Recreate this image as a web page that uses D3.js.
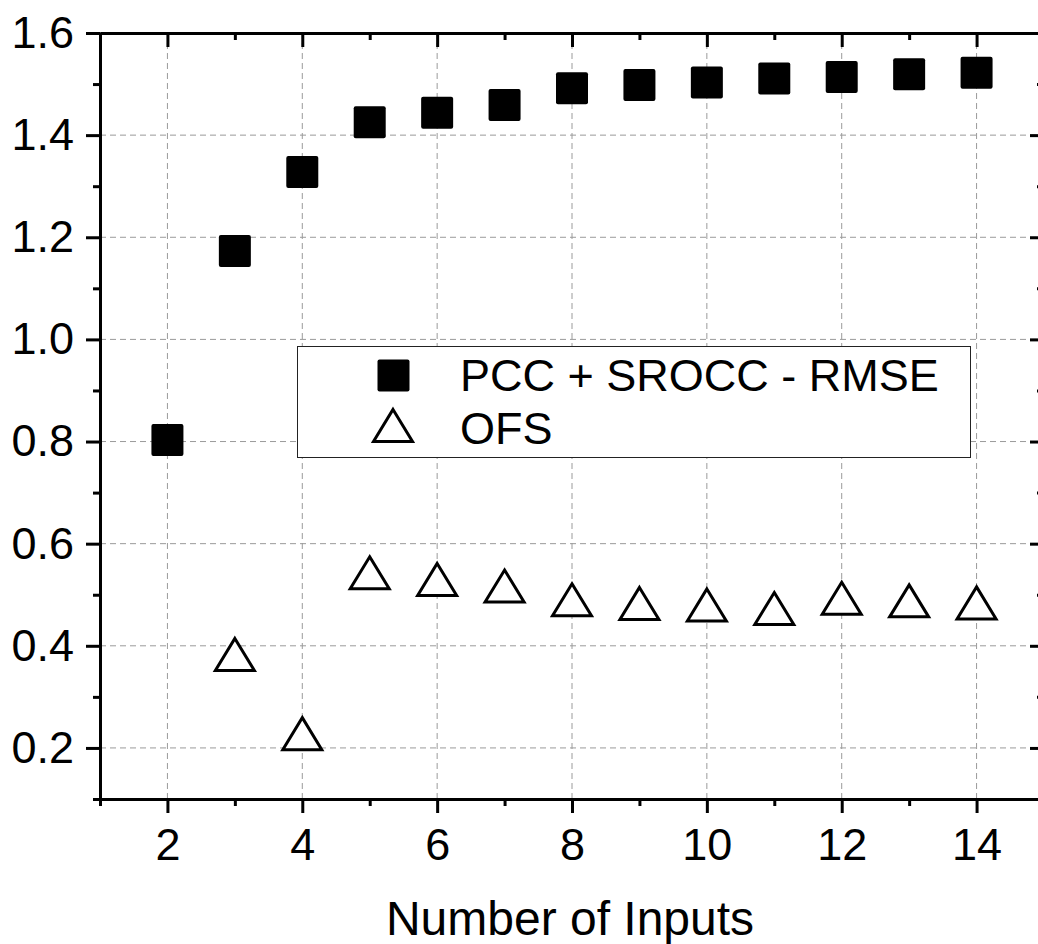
<!DOCTYPE html>
<html>
<head>
<meta charset="utf-8">
<script src="https://cdn.jsdelivr.net/npm/d3@7"></script>
<style>
  html, body { margin: 0; padding: 0; background: #fff; }
  svg { display: block; overflow: hidden; }
  text { font-family: "Liberation Sans", Arial, Helvetica, sans-serif; fill: #000; }
</style>
</head>
<body>
<script>
// ---- data ----
const pccX = [2, 3, 4, 5, 6, 7, 8, 9, 10, 11, 12, 13, 14];
const pccY = [0.803, 1.173, 1.328, 1.425, 1.444, 1.459, 1.492, 1.498, 1.503, 1.511, 1.514, 1.519, 1.522];
const ofsX = [3, 4, 5, 6, 7, 8, 9, 10, 11, 12, 13, 14];
const ofsY = [0.383, 0.228, 0.543, 0.530, 0.517, 0.490, 0.483, 0.480, 0.473, 0.493, 0.488, 0.484];
const xTicks = [2, 4, 6, 8, 10, 12, 14];
const xMinor = [1, 3, 5, 7, 9, 11, 13, 15];
const yTicks = [0.2, 0.4, 0.6, 0.8, 1.0, 1.2, 1.4, 1.6];
const yMinor = [0.1, 0.3, 0.5, 0.7, 0.9, 1.1, 1.3, 1.5];
const seriesNames = ["PCC + SROCC - RMSE", "OFS"];
const xTitle = "Number of Inputs";

// ---- layout ----
const W = 1038, H = 944;
const L = 100, R = 1044, T = 33, B = 799;

const svg = d3.select("body").append("svg").attr("width", W).attr("height", H);

const x = d3.scaleLinear().domain([1, 15]).range([L, R]);
const y = d3.scaleLinear().domain([0.1, 1.6]).range([B, T]);

// grid
const grid = svg.append("g").attr("stroke", "#9a9a9a").attr("stroke-width", 1).attr("stroke-dasharray", "6,4");
grid.selectAll("line.v").data(xTicks).join("line")
  .attr("x1", d => x(d)).attr("x2", d => x(d)).attr("y1", T).attr("y2", B);
grid.selectAll("line.h").data(yTicks.filter(d => d < 1.6)).join("line")
  .attr("x1", L).attr("x2", R).attr("y1", d => y(d)).attr("y2", d => y(d));

function styleAxis(g) {
  g.selectAll("path.domain").attr("stroke", "#000").attr("stroke-width", 3);
  g.selectAll(".tick line").attr("stroke", "#000").attr("stroke-width", 3);
  g.selectAll(".tick text").attr("font-size", 45).attr("font-family", '"Liberation Sans", Arial, sans-serif').attr("fill", "#000");
}

// left axis
svg.append("g").attr("transform", `translate(${L},0)`)
  .call(d3.axisLeft(y).tickValues(yMinor).tickSize(7).tickSizeOuter(0).tickFormat(""))
  .call(styleAxis);
svg.append("g").attr("transform", `translate(${L},0)`)
  .call(d3.axisLeft(y).tickValues(yTicks).tickSize(14).tickSizeOuter(0).tickPadding(12).tickFormat(d3.format(".1f")))
  .call(styleAxis);

// right axis (inward ticks)
svg.append("g").attr("transform", `translate(${R},0)`)
  .call(d3.axisLeft(y).tickValues(yMinor).tickSize(7).tickSizeOuter(0).tickFormat(""))
  .call(styleAxis);
svg.append("g").attr("transform", `translate(${R},0)`)
  .call(d3.axisLeft(y).tickValues(yTicks).tickSize(14).tickSizeOuter(0).tickFormat(""))
  .call(styleAxis);

// bottom axis
svg.append("g").attr("transform", `translate(0,${B})`)
  .call(d3.axisBottom(x).tickValues(xMinor).tickSize(7).tickSizeOuter(0).tickFormat(""))
  .call(styleAxis);
svg.append("g").attr("transform", `translate(0,${B})`)
  .call(d3.axisBottom(x).tickValues(xTicks).tickSize(14).tickSizeOuter(0).tickPadding(15).tickFormat(d3.format("d")))
  .call(styleAxis);

// top axis (inward ticks)
svg.append("g").attr("transform", `translate(0,${T})`)
  .call(d3.axisBottom(x).tickValues(xMinor).tickSize(7).tickSizeOuter(0).tickFormat(""))
  .call(styleAxis);
svg.append("g").attr("transform", `translate(0,${T})`)
  .call(d3.axisBottom(x).tickValues(xTicks).tickSize(14).tickSizeOuter(0).tickFormat(""))
  .call(styleAxis);

// x title
svg.append("text").attr("x", 570).attr("y", 935).attr("text-anchor", "middle")
  .attr("font-size", 48).text(xTitle);

// markers
const SQ = 32;
const TW = 39, TH = 32;
function triPath(cx, cy) {
  return `M${cx},${cy - TH / 2}L${cx + TW / 2},${cy + TH / 2}L${cx - TW / 2},${cy + TH / 2}Z`;
}

svg.append("g").selectAll("path").data(ofsX.map((d, i) => [d, ofsY[i]])).join("path")
  .attr("d", d => triPath(x(d[0]), y(d[1])))
  .attr("fill", "#fff").attr("stroke", "#000").attr("stroke-width", 3).attr("stroke-linejoin", "miter");

svg.append("g").selectAll("rect").data(pccX.map((d, i) => [d, pccY[i]])).join("rect")
  .attr("x", d => x(d[0]) - SQ / 2).attr("y", d => y(d[1]) - SQ / 2)
  .attr("width", SQ).attr("height", SQ).attr("rx", 2).attr("fill", "#000");

// legend
const lg = svg.append("g");
lg.append("rect").attr("x", 297.5).attr("y", 346.5).attr("width", 673).attr("height", 111)
  .attr("fill", "#fff").attr("stroke", "#222").attr("stroke-width", 1);
lg.append("rect").attr("x", 393.5 - SQ / 2).attr("y", 375.5 - SQ / 2).attr("width", SQ).attr("height", SQ)
  .attr("rx", 2).attr("fill", "#000");
lg.append("path").attr("d", triPath(393, 425.5)).attr("fill", "#fff").attr("stroke", "#000").attr("stroke-width", 3);
lg.append("text").attr("x", 460).attr("y", 391).attr("font-size", 45).text(seriesNames[0]);
lg.append("text").attr("x", 460).attr("y", 444).attr("font-size", 45).text(seriesNames[1]);
</script>
</body>
</html>
